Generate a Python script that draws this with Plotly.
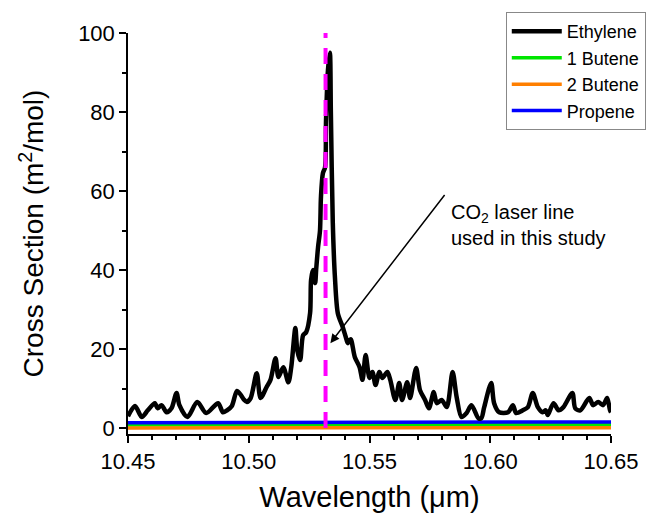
import plotly.graph_objects as go

# ---------------- data ----------------
ethylene_wl = [10.4500, 10.4529, 10.4557, 10.4582, 10.4611, 10.4623, 10.4639, 10.4660, 10.4680, 10.4701,
               10.4713, 10.4746, 10.4787, 10.4824, 10.4873, 10.4893, 10.4910, 10.4930, 10.4951, 10.4967,
               10.4980, 10.4992, 10.5008, 10.5033, 10.5049, 10.5074, 10.5090, 10.5111, 10.5123, 10.5143,
               10.5164, 10.5176, 10.5193, 10.5201, 10.5213, 10.5225, 10.5238, 10.5254, 10.5258, 10.5266,
               10.5275, 10.5279, 10.5287, 10.5295, 10.5299, 10.5307, 10.5316, 10.5320, 10.5328, 10.5336,
               10.5340, 10.5348, 10.5357, 10.5369, 10.5389, 10.5402, 10.5410, 10.5422, 10.5439, 10.5459,
               10.5471, 10.5484, 10.5500, 10.5512, 10.5525, 10.5541, 10.5553, 10.5574, 10.5586, 10.5607,
               10.5623, 10.5635, 10.5656, 10.5668, 10.5693, 10.5709, 10.5730, 10.5746, 10.5766, 10.5779,
               10.5799, 10.5820, 10.5844, 10.5861, 10.5881, 10.5902, 10.5922, 10.5951, 10.5963, 10.5975,
               10.6004, 10.6016, 10.6037, 10.6074, 10.6094, 10.6107, 10.6135, 10.6156, 10.6176, 10.6197,
               10.6217, 10.6230, 10.6238, 10.6262, 10.6283, 10.6303, 10.6340, 10.6352, 10.6373, 10.6410,
               10.6426, 10.6447, 10.6467, 10.6484, 10.6496, 10.6500]
ethylene_cs = [3.0, 5.6, 2.8, 4.5, 6.3, 5.0, 5.8, 4.0, 5.0, 8.9,
               5.8, 2.8, 6.6, 3.8, 6.3, 4.0, 4.5, 5.6, 9.4, 8.4,
               7.2, 6.6, 7.6, 13.9, 7.6, 10.4, 12.2, 17.7, 12.9, 15.4,
               11.6, 15.4, 25.3, 19.7, 17.2, 23.5, 24.3, 29.1, 37.5, 40.0,
               36.7, 40.0, 45.8, 50.0, 58.5, 64.5, 66.0, 78.0, 90.6, 95.0,
               80.0, 52.0, 38.0, 29.0, 25.6, 23.0, 21.5, 22.5, 18.0, 15.4,
               12.2, 18.5, 12.7, 14.2, 10.9, 14.2, 12.7, 14.2, 12.2, 7.1,
               11.4, 7.1, 11.6, 7.6, 15.2, 9.6, 7.1, 5.0, 9.1, 6.3,
               7.1, 5.3, 14.2, 7.8, 2.8, 3.8, 5.8, 2.5, 2.5, 5.3,
               11.4, 6.3, 4.0, 4.0, 5.8, 3.8, 4.5, 5.3, 8.9, 5.3,
               4.0, 4.5, 3.3, 6.3, 4.5, 5.3, 8.9, 5.0, 4.5, 7.6,
               5.8, 6.6, 5.8, 7.6, 4.5, 4.0]

flat_wl = [10.45, 10.50, 10.55, 10.60, 10.65]
butene1_cs = [0.75, 0.78, 0.80, 0.82, 0.85]
butene2_cs = [0.05, 0.05, 0.06, 0.06, 0.07]
propene_cs = [1.35, 1.40, 1.45, 1.50, 1.55]

laser_wl = [10.5318, 10.5318]
laser_cs = [0, 100]

x_ticks = [10.45, 10.50, 10.55, 10.60, 10.65]
x_tick_labels = ["10.45", "10.50", "10.55", "10.60", "10.65"]
y_ticks = [0, 20, 40, 60, 80, 100]

arrow_tip = (10.5338, 21.5)
arrow_tail = (10.5811, 59.0)

FONT = "Liberation Sans, Arial, sans-serif"

fig = go.Figure()
fig.add_trace(go.Scatter(x=flat_wl, y=butene1_cs, mode="lines", name="1 Butene",
                         line=dict(color="#00E600", width=3.5), legendrank=2))
fig.add_trace(go.Scatter(x=flat_wl, y=butene2_cs, mode="lines", name="2 Butene",
                         line=dict(color="#FF7F00", width=3.5), legendrank=3))
fig.add_trace(go.Scatter(x=flat_wl, y=propene_cs, mode="lines", name="Propene",
                         line=dict(color="#0000FF", width=3.5), legendrank=4))
fig.add_trace(go.Scatter(x=ethylene_wl, y=ethylene_cs, mode="lines", name="Ethylene",
                         line=dict(color="black", width=4.5, shape="spline", smoothing=0.8),
                         legendrank=1))
fig.add_trace(go.Scatter(x=laser_wl, y=laser_cs, mode="lines", showlegend=False,
                         line=dict(color="#FF00FF", width=4, dash="16px,10px")))

fig.add_annotation(x=arrow_tip[0], y=arrow_tip[1], ax=arrow_tail[0], ay=arrow_tail[1],
                   axref="x", ayref="y", xref="x", yref="y",
                   text="CO<sub>2</sub> laser line<br>used in this study", showarrow=True,
                   xanchor="left", yanchor="top", align="left", borderpad=5,
                   arrowhead=2, arrowsize=1.2, arrowwidth=1.5, arrowcolor="black",
                   font=dict(family=FONT, size=20, color="black"))

axis_common = dict(showgrid=False, zeroline=False, showline=True, linecolor="black", linewidth=1.5,
                   ticks="outside", ticklen=7, tickwidth=1.5, tickcolor="black", automargin=False,
                   tickfont=dict(family=FONT, size=22, color="black"))

fig.update_xaxes(range=[10.45, 10.65], tickvals=x_ticks, ticktext=x_tick_labels,
                 minor=dict(dtick=0.01, ticks="outside", ticklen=4, tickwidth=1.5, tickcolor="black"),
                 title=dict(text="Wavelength (\u03bcm)", font=dict(family=FONT, size=29, color="black"),
                            standoff=14),
                 **axis_common)
fig.update_yaxes(range=[-1.5, 100], tickvals=y_ticks,
                 minor=dict(dtick=10, ticks="outside", ticklen=4, tickwidth=1.5, tickcolor="black"),
                 title=dict(text="Cross Section (m<sup>2</sup>/mol)",
                            font=dict(family=FONT, size=28, color="black"), standoff=26),
                 **axis_common)

fig.update_layout(
    width=658, height=516,
    margin=dict(l=128, r=41, t=33, b=82),
    plot_bgcolor="white", paper_bgcolor="white",
    legend=dict(x=1.072, y=1.052, xanchor="right", yanchor="top",
                bordercolor="#888888", borderwidth=1, bgcolor="white",
                font=dict(family=FONT, size=18, color="black"),
                itemwidth=50, tracegroupgap=0),
)

fig.write_html("out.html")
